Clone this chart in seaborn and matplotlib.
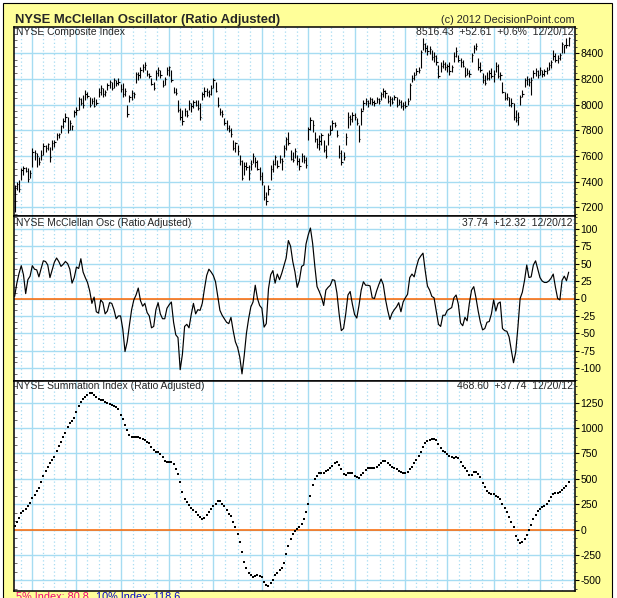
import numpy as np
import pandas as pd
import matplotlib
matplotlib.use("Agg")
import matplotlib.pyplot as plt
from matplotlib.patches import Rectangle
from matplotlib.ticker import MultipleLocator
import seaborn as sns

# NYSE trading calendar (incl. the Sandy closure)
holidays = ["2011-11-24", "2011-12-26", "2012-01-02", "2012-01-16", "2012-02-20",
            "2012-04-06", "2012-05-28", "2012-07-04", "2012-09-03", "2012-10-29",
            "2012-10-30", "2012-11-22", "2012-12-25", "2013-01-01"]
dates = pd.bdate_range("2011-12-20", "2012-12-20", freq="C", holidays=holidays)

# NYSE Composite daily bars
highs = [7372, 7395, 7411, 7505, 7520, 7512, 7505, 7489, 7660, 7644,
         7620, 7590, 7644, 7700, 7683, 7700, 7668, 7722, 7722, 7777,
         7777, 7839, 7893, 7932, 7900, 7878, 7839, 7956, 7980, 8057,
         8050, 8073, 8112, 8096, 8057, 8050, 8057, 8042, 8127, 8151,
         8127, 8112, 8166, 8190, 8174, 8205, 8190, 8205, 8158, 8166,
         8127, 7995, 8073, 8112, 8096, 8252, 8252, 8290, 8314, 8330,
         8268, 8244, 8205, 8174, 8268, 8290, 8268, 8190, 8213, 8290, 8300,
         8268, 8135, 8127, 8034, 7972, 7956, 7972, 7956, 8034, 8010,
         8034, 8034, 8034, 8010, 8096, 8135, 8127, 8112, 8151, 8205,
         8174, 8057, 7972, 7956, 7893, 7878, 7839, 7815, 7722, 7707,
         7683, 7605, 7566, 7551, 7551, 7528, 7566, 7620, 7590, 7566,
         7512, 7473, 7372, 7318, 7372, 7528, 7566, 7605, 7566, 7605,
         7582, 7683, 7746, 7785, 7644, 7629, 7660, 7605, 7582, 7620,
         7605, 7590, 7824, 7900, 7878, 7785, 7737, 7761, 7777, 7722,
         7683, 7777, 7839, 7878, 7862, 7800, 7683, 7644, 7629, 7777,
         7940, 7917, 7940, 7932, 7893, 7839, 7972, 8034, 8050, 8034,
         8057, 8050, 8034, 8057, 8050, 8096, 8127, 8112, 8073, 8065,
         8057, 8073, 8057, 8042, 8034, 8018, 8026, 8050, 8166, 8229,
         8252, 8283, 8290, 8423, 8517, 8478, 8462, 8455, 8423, 8408,
         8384, 8307, 8330, 8345, 8330, 8314, 8330, 8307, 8408, 8447,
         8384, 8361, 8345, 8291, 8283, 8268, 8400, 8462, 8478, 8361,
         8330, 8244, 8229, 8252, 8268, 8283, 8268, 8330, 8314, 8252,
         8174, 8096, 8088, 8057, 8050, 8010, 7956, 7940, 8073, 8112,
         8205, 8221, 8205, 8213, 8268, 8283, 8268, 8290, 8268, 8275,
         8290, 8330, 8345, 8423, 8400, 8384, 8400, 8486, 8462, 8517,
         8530]
lows = [7161, 7333, 7317, 7411, 7450, 7473, 7395, 7427, 7512, 7566,
        7512, 7528, 7566, 7605, 7628, 7644, 7550, 7644, 7668, 7722,
        7737, 7777, 7815, 7862, 7777, 7800, 7800, 7900, 7917, 7956,
        7995, 7972, 8034, 8050, 7980, 8003, 7980, 7995, 8057, 8073,
        8057, 8065, 8112, 8127, 8112, 8127, 8143, 8151, 8096, 8057,
        8065, 7900, 8018, 8034, 8050, 8166, 8190, 8205, 8252, 8267,
        8221, 8205, 8151, 8112, 8190, 8221, 8205, 8135, 8151, 8229, 8225,
        8174, 8088, 8073, 7940, 7878, 7840, 7910, 7900, 7956, 7940,
        7972, 7987, 7956, 7880, 8034, 8057, 8065, 8057, 8073, 8127,
        8096, 7980, 7917, 7900, 7839, 7800, 7785, 7746, 7644, 7629,
        7605, 7528, 7411, 7450, 7489, 7411, 7489, 7543, 7512, 7489,
        7411, 7372, 7255, 7216, 7294, 7411, 7473, 7528, 7504, 7543,
        7489, 7590, 7644, 7683, 7566, 7551, 7582, 7528, 7489, 7551,
        7543, 7504, 7722, 7800, 7785, 7707, 7660, 7644, 7683, 7629,
        7582, 7683, 7761, 7800, 7824, 7746, 7582, 7528, 7566, 7683,
        7815, 7839, 7862, 7878, 7839, 7707, 7839, 7956, 7995, 7980,
        8003, 7995, 7987, 8010, 8003, 8034, 8057, 8050, 8010, 7987,
        8003, 8034, 7980, 7995, 7972, 7956, 7972, 7995, 8034, 8174,
        8190, 8229, 8244, 8283, 8423, 8408, 8384, 8392, 8345, 8330,
        8307, 8205, 8252, 8283, 8267, 8252, 8229, 8252, 8330, 8369,
        8330, 8291, 8291, 8213, 8229, 8213, 8330, 8400, 8423, 8268,
        8252, 8166, 8151, 8190, 8190, 8205, 8174, 8252, 8205, 8190,
        8088, 8034, 8034, 7987, 7980, 7878, 7862, 7839, 7995, 8057,
        8135, 8151, 8143, 8073, 8205, 8221, 8205, 8229, 8213, 8221,
        8237, 8268, 8283, 8345, 8330, 8322, 8345, 8400, 8400, 8439,
        8455]
closes = [7362, 7380, 7340, 7490, 7505, 7480, 7420, 7470, 7630, 7620,
          7600, 7550, 7610, 7680, 7665, 7690, 7590, 7700, 7710, 7760,
          7770, 7830, 7870, 7900, 7800, 7860, 7830, 7940, 7960, 8040,
          8010, 8000, 8080, 8070, 8000, 8030, 7990, 8010, 8100, 8130,
          8080, 8100, 8150, 8180, 8130, 8190, 8170, 8180, 8120, 8080,
          8110, 7930, 8060, 8090, 8085, 8240, 8230, 8270, 8290, 8310,
          8240, 8220, 8160, 8130, 8250, 8270, 8230, 8150, 8200, 8270, 8290,
          8190, 8100, 8090, 7960, 7900, 7870, 7950, 7920, 8010, 7990,
          8020, 8000, 7970, 7900, 8080, 8110, 8100, 8080, 8130, 8190,
          8110, 8000, 7940, 7930, 7860, 7820, 7800, 7770, 7660, 7700,
          7640, 7560, 7430, 7520, 7510, 7470, 7540, 7600, 7550, 7500,
          7440, 7400, 7280, 7250, 7340, 7500, 7540, 7590, 7520, 7580,
          7560, 7660, 7730, 7700, 7580, 7570, 7640, 7560, 7520, 7600,
          7570, 7530, 7810, 7880, 7840, 7730, 7690, 7720, 7760, 7650,
          7600, 7760, 7800, 7860, 7840, 7760, 7620, 7550, 7590, 7750,
          7900, 7890, 7920, 7900, 7860, 7730, 7950, 8010, 8030, 8010,
          8040, 8020, 8010, 8045, 8030, 8080, 8110, 8090, 8030, 8040,
          8020, 8060, 8000, 8020, 7990, 8000, 7990, 8030, 8150, 8210,
          8230, 8260, 8270, 8410, 8470, 8440, 8420, 8430, 8370, 8380,
          8330, 8220, 8300, 8320, 8290, 8300, 8260, 8290, 8380, 8420,
          8350, 8330, 8300, 8230, 8250, 8240, 8390, 8440, 8460, 8290,
          8270, 8190, 8170, 8210, 8250, 8220, 8240, 8300, 8220, 8230,
          8100, 8050, 8060, 8000, 8010, 7900, 7880, 7900, 8060, 8080,
          8190, 8200, 8180, 8190, 8250, 8260, 8230, 8270, 8240, 8260,
          8270, 8310, 8330, 8380, 8350, 8360, 8390, 8470, 8464, 8464,
          8516.43]

# McClellan Oscillator (ratio adjusted)
osc = [3, 22, 36, 47, 34, 7, 27, 32, 47, 42,
       41, 31, 43, 54, 53, 48, 30, 41, 52, 58,
       53, 46, 49, 53, 50, 42, 22, 30, 45, 43,
       57, 38, 30, 23, 11, -7, 2, -19, -21, -2,
       -6, -22, -18, -6, -7, -16, -29, -25, -25, -44,
       -76, -62, -38, -16, -2, 5, 15, -3, -11, -7,
       -20, -25, -42, -40, -16, -6, -22, -29, -29, -14, -9,
       -5, -34, -52, -56, -102, -80, -40, -37, -42, -23,
       -7, -22, -16, -17, -7, 14, 33, 42, 38, 33,
       24, 4, -17, -24, -29, -34, -36, -27, -46, -62,
       -70, -84, -108, -82, -50, -29, -12, -5, 19, 0,
       -10, -14, -41, -36, 14, 34, 40, 22, 35, 27,
       36, 47, 58, 83, 75, 53, 38, 16, 26, 46,
       48, 78, 91, 101, 79, 46, 17, 10, 2, -10,
       12, 16, 19, 27, 26, 8, -22, -46, -43, -22,
       5, 10, -8, -23, -28, -10, 12, 24, 19, 19,
       18, 1, 0, 11, 20, 28, 20, -1, -17, -30,
       -21, -16, -12, -6, -19, -5, 1, 6, 30, 35,
       31, 45, 56, 61, 65, 40, 18, 12, 3, 1,
       -18, -37, -40, -24, -24, -17, -15, -13, 1, 5,
       -8, -35, -39, -27, -32, -7, 12, 17, 1, -18,
       -34, -45, -43, -34, -33, -22, -2, -18, -7, -5,
       -43, -46, -47, -55, -74, -92, -77, -41, 0, 9,
       26, 48, 30, 31, 48, 54, 42, 30, 25, 23,
       23, 25, 29, 35, 16, 0, -2, 26, 32, 25.42,
       37.74]

# NYSE Summation Index (ratio adjusted)
summ = [39, 76, 115, 161, 184, 204, 233, 259, 309, 342,
        378, 414, 466, 529, 581, 614, 653, 690, 716, 775,
        821, 867, 913, 949, 1011, 1051, 1074, 1103, 1163, 1215,
        1258, 1287, 1310, 1323, 1350, 1343, 1327, 1307, 1287, 1281,
        1277, 1258, 1245, 1238, 1232, 1222, 1209, 1186, 1133, 1090,
        1031, 982, 936, 916, 910, 916, 910, 900, 893, 887,
        867, 851, 814, 782, 762, 762, 749, 713, 673, 670, 667,
        663, 650, 594, 548, 473, 368, 305, 273, 240, 210,
        190, 174, 148, 122, 108, 118, 144, 174, 204, 233,
        256, 286, 286, 253, 236, 197, 154, 135, 79, 30,
        -39, -118, -220, -319, -374, -424, -447, -463, -460, -450,
        -456, -470, -516, -548, -552, -529, -496, -443, -427, -401,
        -381, -332, -240, -164, -92, -46, -10, 10, 26, 56,
        102, 177, 250, 332, 440, 496, 529, 562, 562, 562,
        581, 591, 608, 627, 653, 667, 637, 594, 548, 535,
        555, 562, 555, 529, 516, 512, 535, 562, 585, 608,
        611, 608, 608, 617, 634, 657, 677, 677, 660, 637,
        621, 611, 598, 581, 568, 562, 562, 568, 594, 617,
        657, 686, 726, 762, 818, 854, 877, 883, 890, 897,
        880, 841, 808, 778, 762, 749, 726, 713, 709, 713,
        709, 670, 631, 604, 578, 542, 539, 571, 571, 552,
        516, 463, 417, 381, 361, 355, 348, 332, 325, 299,
        253, 210, 171, 125, 76, 23, -59, -102, -128, -125,
        -95, -49, -3, 49, 102, 148, 181, 200, 223, 233,
        253, 286, 325, 355, 358, 365, 368, 390, 405, 430.86,
        468.60]

price_ticks = [7200, 7400, 7600, 7800, 8000, 8200, 8400]
osc_ticks = [-100, -75, -50, -25, 0, 25, 50, 75, 100]
summ_ticks = [-500, -250, 0, 250, 500, 750, 1000, 1250]

n = min(len(dates), len(highs), len(lows), len(closes), len(osc), len(summ))
df = pd.DataFrame({"i": np.arange(n), "high": highs[:n], "low": lows[:n],
                   "close": closes[:n], "osc": osc[:n], "summ": summ[:n]})

# month starts (solid lines) and quarter-month divisions (dotted lines)
cal = pd.bdate_range("2011-12-01", "2013-01-31", freq="C", holidays=holidays)
pos = np.arange(len(cal)) - cal.get_loc(pd.Timestamp("2011-12-20"))
mstart = [pos[0]] + [pos[k] for k in range(1, len(cal)) if cal[k].month != cal[k - 1].month]
month_lines = [m for m in mstart if 0 < m < 254]
dotted = []
for a, b in zip(mstart[:-1], mstart[1:]):
    for q in (1, 2, 3):
        d = a + q * (b - a) / 4
        if -0.3 < d < 253.8:
            dotted.append(d)

sns.set_style("white")
plt.rcParams["font.family"] = ["Liberation Sans", "DejaVu Sans"]
plt.rcParams["axes.unicode_minus"] = False

W, H = 617, 598
YELLOW = "#FFFF99"
GRID = "#A6DCF2"
ORANGE = "#FF6600"
XLIM = (-0.29, 253.86)

fig = plt.figure(figsize=(W / 100, H / 100), dpi=100)
fig.patch.set_facecolor("white")
fig.patches.append(Rectangle((2.5 / W, -0.01), 609 / W, 1.01 - 2.5 / H,
                             transform=fig.transFigure, facecolor=YELLOW,
                             edgecolor="black", linewidth=0.8, zorder=-5))


def px(x, y):
    return x / W, 1 - y / H


def make_axes(top, bottom):
    ax = fig.add_axes([14 / W, 1 - bottom / H, 561 / W, (bottom - top) / H])
    ax.set_facecolor("white")
    for s in ax.spines.values():
        s.set_color("black")
        s.set_linewidth(1.1)
        s.set_visible(True)
    for m in month_lines:
        ax.axvline(m, color=GRID, lw=1.0, zorder=0.5)
    for d in dotted:
        ax.axvline(d, color=GRID, lw=0.9, ls=(0, (1, 2)), zorder=0.5)
    return ax


def style_y(ax, ticks, minor, lim):
    ax.set_ylim(*lim)
    ax.set_yticks(ticks)
    ax.yaxis.set_minor_locator(MultipleLocator(minor))
    ax.yaxis.tick_right()
    ax.tick_params(axis="y", which="major", direction="out", length=3, width=0.8,
                   labelsize=7.5, pad=1, colors="black")
    ax.tick_params(axis="y", which="minor", direction="out", length=1.5, width=0.6)
    for t in ticks:
        ax.axhline(t, color=GRID, lw=1.0, zorder=0.5)
    sec = ax.secondary_yaxis("left")
    sec.set_yticks(ticks)
    sec.yaxis.set_minor_locator(MultipleLocator(minor))
    sec.tick_params(axis="y", which="major", direction="in", length=3, width=0.6,
                    labelleft=False, colors="#555555")
    sec.tick_params(axis="y", which="minor", direction="in", length=2, width=0.6,
                    colors="#555555")
    sec.spines["left"].set_visible(False)


# panel 1: price bars
ax1 = make_axes(27, 216)
style_y(ax1, price_ticks, 50, (7132, 8605))
ax1.vlines(df["i"], df["low"], df["high"], color="black", lw=0.8, zorder=3)
ax1.hlines(df["close"], df["i"], df["i"] + 0.6, color="black", lw=0.8, zorder=3)

# panel 2: oscillator
ax2 = make_axes(216, 381)
style_y(ax2, osc_ticks, 25 / 3, (-118.2, 118.2))
ax2.axhline(0, color=ORANGE, lw=1.1, zorder=1)
sns.lineplot(data=df, x="i", y="osc", ax=ax2, color="black", linewidth=0.85,
             zorder=3, legend=False)

# panel 3: summation index
ax3 = make_axes(381, 591)
style_y(ax3, summ_ticks, 250 / 3, (-605, 1464))
ax3.axhline(0, color=ORANGE, lw=1.1, zorder=1)
sns.scatterplot(data=df, x="i", y="summ", ax=ax3, marker="s", s=3.5,
                color="black", linewidth=0, zorder=3, legend=False)

for ax in (ax1, ax2, ax3):
    ax.set_xlabel("")
    ax.set_ylabel("")
    ax.set_xticks([])
    ax.set_xlim(*XLIM)

# text
fig.text(*px(15, 23), "NYSE McClellan Oscillator (Ratio Adjusted)", fontsize=9.4,
         fontweight="bold", va="baseline", ha="left")
fig.text(*px(575, 23), "(c) 2012 DecisionPoint.com", fontsize=7.8,
         va="baseline", ha="right")

labels = [("NYSE Composite Index", "8516.43  +52.61  +0.6%  12/20/12", 35),
          ("NYSE McClellan Osc (Ratio Adjusted)", "37.74  +12.32  12/20/12", 226),
          ("NYSE Summation Index (Ratio Adjusted)", "468.60  +37.74  12/20/12", 389)]
for left, right, y in labels:
    fig.text(*px(16, y), left, fontsize=7.5, va="baseline", ha="left")
    fig.text(*px(573, y), right, fontsize=7.5, va="baseline", ha="right")

fig.text(*px(16, 592), "5% Index: 80.8", fontsize=7.8, color="#F0007A",
         va="top", ha="left")
fig.text(*px(96, 592), "10% Index: 118.6", fontsize=7.8, color="#0000CC",
         va="top", ha="left")

fig.savefig("out.png", dpi=100, facecolor=fig.get_facecolor())
